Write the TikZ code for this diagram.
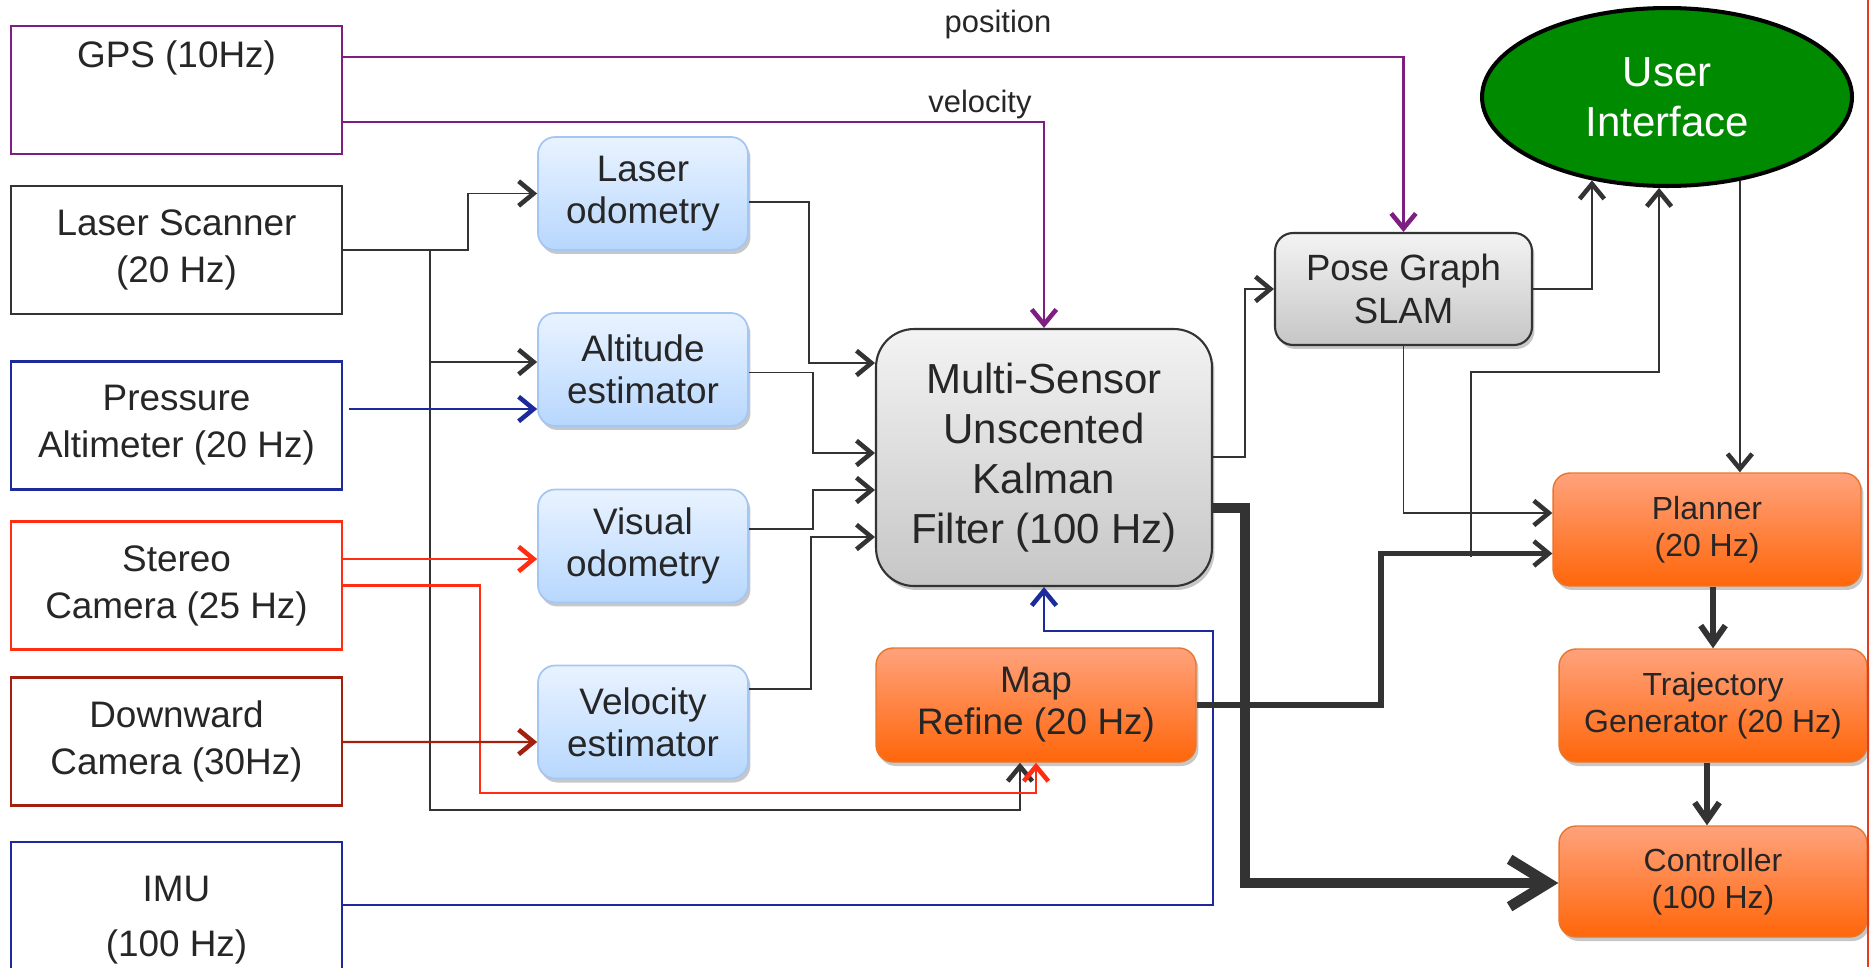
\documentclass[tikz,border=0pt]{standalone}
\usepackage{fontspec}
\setmainfont{Liberation Sans}
\usetikzlibrary{arrows.meta,calc,shadows,shapes.geometric}

\definecolor{ink}{HTML}{262626}
\definecolor{wirec}{HTML}{333333}
\definecolor{gpsc}{HTML}{7E1E80}
\definecolor{bluec}{HTML}{1C2A9C}
\definecolor{redc}{HTML}{FF2D12}
\definecolor{darkredc}{HTML}{A3200F}
\definecolor{blutop}{HTML}{E9F3FF}
\definecolor{blubot}{HTML}{B7D7FE}
\definecolor{bluedge}{HTML}{A6C6F2}
\definecolor{graytop}{HTML}{F3F3F3}
\definecolor{graybot}{HTML}{C6C6C6}
\definecolor{orgtop}{HTML}{FFA27C}
\definecolor{orgbot}{HTML}{FF660A}
\definecolor{orgedge}{HTML}{E8772E}
\definecolor{uigreen}{HTML}{008A00}
\definecolor{framered}{HTML}{E53A1E}

% text sizes
\newcommand\fsrc{\fontsize{21}{26.7}\selectfont}
\newcommand\fest{\fontsize{21}{23.9}\selectfont}
\newcommand\fbig{\fontsize{23.9}{28.5}\selectfont}
\newcommand\fpose{\fontsize{20.8}{24.5}\selectfont}
\newcommand\fsmall{\fontsize{18.2}{21}\selectfont}
\newcommand\flabel{\fontsize{17.6}{21}\selectfont}

\tikzset{
  thinhead/.tip={Straight Barb[length=8.5pt,width=14pt,line width=2.6pt]},
  midhead/.tip={Straight Barb[length=10pt,width=14pt,line width=3.4pt]},
  bighead/.tip={Straight Barb[length=22pt,width=27pt,line width=6pt]},
  every node/.style={text=ink, inner sep=0pt},
  softshadow/.style={drop shadow={shadow xshift=0.05cm, shadow yshift=-0.08cm, opacity=0.22, fill=black}},
  src/.style={draw, line width=1.3pt, minimum width=6.62cm, minimum height=2.56cm,
    align=center, font=\fsrc},
  est/.style={draw=bluedge, line width=1pt, rounded corners=0.34cm, top color=blutop,
    bottom color=blubot, minimum width=4.2cm, minimum height=2.26cm, align=center,
    font=\fest, softshadow},
  grey/.style={draw=wirec, line width=1.2pt, top color=graytop, bottom color=graybot,
    align=center, softshadow},
  orange/.style={draw=orgedge, line width=0.8pt, rounded corners=0.34cm, top color=orgtop,
    bottom color=orgbot, align=center, softshadow},
  uinode/.style={ellipse, draw=black, line width=2.3pt, fill=uigreen, text=white,
    minimum width=7.4cm, minimum height=3.56cm, align=center, font=\fbig},
  link/.style={draw=wirec, line width=1.1pt, -thinhead},
  plink/.style={draw=gpsc, line width=1.2pt, -thinhead},
  blink/.style={draw=bluec, line width=1.1pt, -thinhead},
  rlink/.style={draw=redc, line width=1.2pt, -thinhead},
  drlink/.style={draw=darkredc, line width=1.2pt, -thinhead},
  fat/.style={draw=wirec, line width=3.4pt, -thinhead},
  fatter/.style={draw=wirec, line width=6pt, -bighead},
  mid/.style={draw=wirec, line width=3.4pt, -midhead},
}

\begin{document}
\begin{tikzpicture}[x=0.02cm, y=-0.02cm]
\useasboundingbox (0,0) rectangle (1875,967);

% sensors
\node[src, draw=gpsc] (gps) at (176.5,90) {GPS (10Hz)\\[6pt]\strut};
\node[src, draw=wirec] (laser) at (176.5,250) {Laser Scanner\\(20 Hz)};
\node[src, draw=bluec] (press) at (176.5,425.5) {Pressure\\Altimeter (20 Hz)};
\node[src, draw=redc] (stereo) at (176.5,585.5) {Stereo\\Camera (25 Hz)};
\node[src, draw=darkredc] (down) at (176.5,741.5) {Downward\\Camera (30Hz)};
\node[src, draw=bluec, minimum height=3.12cm] (imu) at (176.5,920) {IMU\\[5pt](100 Hz)};

% estimators
\node[est] (lodo) at (643,193.5) {Laser\\odometry};
\node[est] (alt) at (643,369.5) {Altitude\\estimator};
\node[est] (vodo) at (643,546) {Visual\\odometry};
\node[est] (vest) at (643,722) {Velocity\\estimator};

% fusion and mapping
\node[grey, rounded corners=0.76cm, minimum width=6.72cm, minimum height=5.14cm, font=\fbig]
  (ukf) at (1044,457.5) {Multi-Sensor\\Unscented\\Kalman\\Filter (100 Hz)};
\node[grey, rounded corners=0.36cm, minimum width=5.14cm, minimum height=2.24cm, font=\fpose]
  (pose) at (1403.5,289) {Pose Graph\\SLAM};
\node[orange, minimum width=6.4cm, minimum height=2.28cm, font=\fest]
  (map) at (1036,705) {Map\\Refine (20 Hz)};

% control chain
\node[orange, minimum width=6.16cm, minimum height=2.26cm, font=\fsmall]
  (planner) at (1707,529.5) {Planner\\(20 Hz)};
\node[orange, minimum width=6.16cm, minimum height=2.26cm, font=\fsmall]
  (traj) at (1713,705.5) {Trajectory\\Generator (20 Hz)};
\node[orange, minimum width=6.16cm, minimum height=2.22cm, font=\fsmall]
  (ctrl) at (1713,881.5) {Controller\\(100 Hz)};

\node[uinode] (ui) at (1667,97) {User\\Interface};

% GPS outputs
\node[font=\flabel] (poslbl) at (998,25) {position};
\node[font=\flabel] (vellbl) at (980,105) {velocity};
\draw[plink] ($(gps.east)+(0,-33)$) -| (pose.north);
\draw[plink] ($(gps.east)+(0,32)$) -| (ukf.north);

% laser scanner
\draw[link] (laser.east) -- ++(125,0) |- (lodo.west);
\draw[link] (laser.east) -- ++(87,0) |- ($(alt.west)+(0,-7.5)$);
\draw[link] (laser.east) -- ++(87,0) |- ($(map.south)+(-16,47)$) -- ($(map.south)+(-16,0)$);

% other sensors
\draw[blink] ($(press.east)+(6,-16.5)$) -- ($(alt.west)+(0,39.5)$);
\draw[rlink] ($(stereo.east)+(0,-26.5)$) -- ($(vodo.west)+(0,13)$);
\draw[rlink] (stereo.east) -- ++(137,0) |- ($(map.south)+(0,30)$) -- (map.south);
\draw[drlink] ($(down.east)+(0,0.5)$) -- ($(vest.west)+(0,20)$);
\draw[blink] ($(imu.east)+(0,-15)$) -- ++(870,0) |- ($(ukf.south)+(0,44)$) -- (ukf.south);

% estimators into the filter
\draw[link] ($(lodo.east)+(0,8.5)$) -- ++(60,0) |- ($(ukf.west)+(0,-94.5)$);
\draw[link] ($(alt.east)+(0,3)$) -- ++(64,0) |- ($(ukf.west)+(0,-4.5)$);
\draw[link] ($(vodo.east)+(0,-17)$) -- ++(64,0) |- ($(ukf.west)+(0,32.5)$);
\draw[link] ($(vest.east)+(0,-33)$) -- ++(62,0) |- ($(ukf.west)+(0,79.5)$);

% filter outputs
\draw[link] ($(ukf.east)+(0,-0.5)$) -- ++(32,0) |- (pose.west);
\draw[fatter] ($(ukf.east)+(0,50.5)$) -- ++(32,0) |- ($(ctrl.west)+(0,1.5)$);

% map outputs
\draw[fat] (map.east) -- ++(184,0) |- ($(planner.west)+(0,24)$);
\coordinate (mapui) at (1471,557);
\coordinate (uibend) at (1471,372);
\draw[link] (mapui) -- (uibend) -| (ui.265);

% pose graph and user interface
\draw[link] (pose.east) -| (ui.228);
\draw[link] (pose.south) |- ($(planner.west)+(0,-16.5)$);
\draw[link] (ui.311) -- (ui.311 |- planner.north);

% planner chain
\draw[mid] (planner.south -| traj.north) -- (traj.north);
\draw[mid] ($(traj.south)+(-6,0)$) -- ($(ctrl.north)+(-6,0)$);

% right edge rule
\draw[framered, line width=1.6pt] (1868,0) -- (1868,967);
\end{tikzpicture}
\end{document}
